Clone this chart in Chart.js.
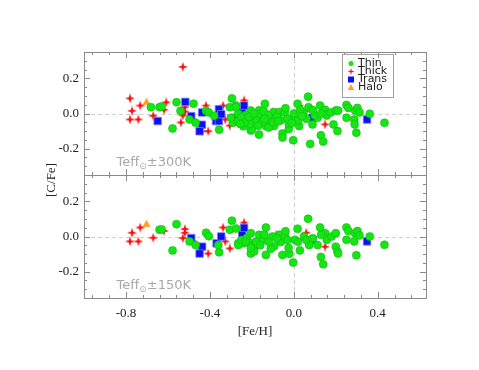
<!DOCTYPE html>
<html>
<head>
<meta charset="utf-8">
<script src="https://cdn.jsdelivr.net/npm/chart.js@4.4.1/dist/chart.umd.min.js"></script>
<style>
  body { margin: 0; background: #fff; }
  #wrap { position: relative; width: 479px; height: 370px; }
  canvas { position: absolute; left: 0; top: 0; }
</style>
</head>
<body>
<div id="wrap">
  <canvas id="topChart" width="479" height="370"></canvas>
  <canvas id="bottomChart" width="479" height="370"></canvas>
</div>
<script>
// ---- data: [Fe/H], [C/Fe] ----
// upper panel (Teff ± 300K)
const thinTop = [
  [-0.681,0.036],[-0.64,0.036],[-0.63,0.04],[-0.559,0.064],[-0.578,-0.085],[-0.54,0.015],
  [-0.497,-0.034],[-0.478,0.056],[-0.468,-0.053],[-0.418,0.015],[-0.405,0.006],[-0.356,-0.092],
  [-0.38,-0.013],[-0.305,0.036],[-0.295,0.086],[-0.275,0.045],[-0.29,-0.053],[-0.265,-0.043],
  [-0.24,-0.073],[-0.3,-0.024],[-0.265,-0.002],[-0.276,0.036],[-0.205,0.017],[-0.205,-0.097],
  [-0.166,-0.12],[-0.197,-0.025],[-0.189,-0.062],[-0.2,-0.09],[-0.165,0.018],[-0.16,-0.011],
  [-0.138,0.055],[-0.144,0.013],[-0.133,-0.071],[-0.113,-0.034],[-0.094,-0.071],[-0.097,0.008],
  [-0.068,0.008],[-0.062,-0.039],[-0.054,-0.114],[-0.054,-0.137],[-0.043,0.006],[-0.024,-0.088],
  [-0.024,-0.058],[-0.003,-0.152],[0.005,-0.024],[0.018,0.055],[0.025,-0.071],[0.046,0.006],
  [0.068,0.096],[0.07,0.036],[0.078,-0.173],[0.089,-0.062],[0.113,-0.024],[0.129,-0.124],
  [0.125,0.045],[0.14,-0.16],[0.149,0.021],[0.157,-0.011],[0.176,0.006],[0.189,-0.062],
  [0.2,0.017],[0.208,-0.1],[0.211,0.017],[0.251,0.049],[0.26,0.032],[0.251,-0.024],
  [0.288,-0.034],[0.29,-0.062],[0.298,-0.109],[0.292,0.017],[0.303,0.032],[0.313,0.006],
  [0.362,-0.002],[0.432,-0.053],
  [-0.22,-0.04],[-0.23,-0.01],[-0.18,-0.04],[-0.15,-0.05],[-0.12,-0.01],[-0.08,-0.02],
  [-0.03,-0.03],[0.0,0.0],[0.02,-0.04],[0.06,-0.03],[0.1,-0.01],[0.09,0.02],[-0.21,-0.06],
  [-0.25,-0.02],[-0.12,-0.08],[-0.04,0.03],[0.03,0.02],[0.13,0.0],
  [-0.235,-0.05],[-0.215,-0.02],[-0.17,-0.07],[-0.14,-0.03],[-0.1,-0.05],[-0.075,-0.045],
  [-0.01,-0.055],[0.04,-0.015],[-0.255,-0.06],[-0.19,0.0]
];
const thickTop = [
  [-0.781,0.086],[-0.771,0.015],[-0.781,-0.034],[-0.741,-0.034],[-0.732,0.045],[-0.67,-0.013],
  [-0.619,0.021],[-0.608,0.064],[-0.529,0.265],[-0.519,0.036],[-0.519,0.011],[-0.529,-0.011],
  [-0.538,-0.051],[-0.48,-0.034],[-0.437,-0.101],[-0.408,-0.101],[-0.419,0.045],[-0.337,0.045],
  [-0.327,-0.034],[-0.305,-0.069],[-0.237,0.075],[-0.224,-0.034],[-0.125,-0.002],[-0.084,0.006],
  [0.027,0.045],[0.059,0.015],[0.149,-0.062]
];
const transTop = [
  [-0.649,-0.043],[-0.517,0.066],[-0.489,-0.015],[-0.437,0.006],[-0.438,-0.064],[-0.449,-0.101],
  [-0.371,-0.043],[-0.357,-0.043],[-0.357,0.024],[-0.346,-0.004],[-0.278,-0.024],[-0.246,0.006],
  [-0.237,0.045],[-0.246,-0.013],[0.089,-0.024],[0.349,-0.034]
];
const haloTop = [[-0.702,0.062]];

// lower panel (Teff ± 150K)
const thinBottom = [
  [-0.64,0.039],[-0.63,0.04],[-0.559,0.07],[-0.578,-0.079],[-0.497,-0.028],[-0.468,-0.049],
  [-0.418,0.021],[-0.405,0.002],[-0.356,-0.09],[-0.36,-0.049],[-0.305,0.039],[-0.295,0.09],
  [-0.265,-0.039],[-0.24,-0.039],[-0.205,-0.097],[-0.19,-0.075],[-0.275,0.045],[-0.265,-0.049],
  [-0.25,-0.02],[-0.224,-0.009],[-0.205,0.019],[-0.205,-0.039],[-0.197,-0.055],[-0.189,-0.085],
  [-0.205,-0.065],[-0.165,0.01],[-0.144,-0.019],[-0.133,0.051],[-0.14,0.01],[-0.133,-0.105],
  [-0.094,-0.055],[-0.101,0.0],[-0.068,0.01],[-0.062,-0.031],[-0.054,-0.105],[-0.043,0.0],
  [-0.022,-0.098],[-0.025,-0.066],[-0.003,-0.148],[0.005,-0.019],[0.018,0.044],[0.029,-0.079],
  [0.049,0.0],[0.068,0.101],[0.073,-0.049],[0.113,-0.049],[0.125,0.051],[0.129,-0.116],
  [0.14,-0.158],[0.149,0.019],[0.157,-0.019],[0.18,0.0],[0.2,0.019],[0.2,-0.058],
  [0.208,-0.086],[0.211,-0.097],[0.251,0.051],[0.26,0.031],[0.251,-0.019],[0.288,-0.028],
  [0.298,-0.107],[0.292,0.019],[0.303,0.031],[0.313,0.006],[0.362,0.0],[0.432,-0.047],
  [-0.18,-0.03],[-0.16,-0.05],[-0.12,-0.03],[-0.11,-0.07],[-0.08,-0.01],[-0.03,-0.02],
  [0.02,-0.03],[0.06,-0.02],[0.09,-0.01],[-0.23,-0.03],[0.13,0.01],[-0.04,0.03]
];
const thickBottom = [
  [-0.781,-0.028],[-0.771,0.021],[-0.741,-0.028],[-0.732,0.051],[-0.67,-0.007],[-0.619,0.032],
  [-0.519,0.042],[-0.519,0.021],[-0.529,-0.009],[-0.48,-0.028],[-0.408,-0.097],[-0.337,0.051],
  [-0.327,-0.028],[-0.305,-0.068],[-0.237,0.079],[-0.224,-0.028],[-0.084,0.01],[0.059,0.021],
  [0.149,-0.058]
];
const transBottom = [
  [-0.489,-0.009],[-0.437,-0.058],[-0.449,-0.097],[-0.368,-0.039],[-0.346,0.0],[-0.246,0.01],
  [-0.237,0.049],[0.089,-0.019],[0.349,-0.028]
];
const haloBottom = [[-0.702,0.068]];

const legendLabels = ["Thin", "Thick", "Trans", "Halo"];
const xTicks = [-0.8, -0.4, 0.0, 0.4];
const xTickLabels = ["-0.8", "-0.4", "0.0", "0.4"];
const yTicks = [0.2, 0.0, -0.2];
const yTickLabels = ["0.2", "0.0", "-0.2"];

const GREEN = "#14e614", RED = "#ff1010", BLUE = "#0a10f0", ORANGE = "#ffa020";

// 4-pointed star used for the "Thick" points
function starImage(size, color) {
  const c = document.createElement("canvas");
  c.width = size; c.height = size;
  const g = c.getContext("2d");
  const m = size / 2, R = size / 2, r = size / 6;
  g.fillStyle = color;
  g.beginPath();
  for (let i = 0; i < 8; i++) {
    const a = -Math.PI / 2 + i * Math.PI / 4;
    const rr = i % 2 ? r : R;
    g.lineTo(m + rr * Math.cos(a), m + rr * Math.sin(a));
  }
  g.closePath();
  g.fill();
  return c;
}
const starBig = starImage(10, RED);
const starSmall = starImage(7, RED);

const toXY = arr => arr.map(p => ({ x: p[0], y: p[1] }));

function makeDatasets(thin, thick, trans, halo) {
  return [
    { label: "Thin", data: toXY(thin), pointStyle: "circle", pointRadius: 4,
      backgroundColor: GREEN, borderColor: "#12b812", borderWidth: 0.6 },
    { label: "Trans", data: toXY(trans), pointStyle: "rect", pointRadius: 5.3,
      backgroundColor: BLUE, borderColor: "#7a7aff", borderWidth: 0.8 },
    { label: "Thick", data: toXY(thick), pointStyle: starBig, pointRadius: 5 },
    { label: "Halo", data: toXY(halo), pointStyle: "triangle", pointRadius: 4.3,
      backgroundColor: ORANGE, borderColor: ORANGE, borderWidth: 0.5 }
  ];
}

function panelPlugin(teffText, isBottom) {
  return {
    id: "panel",
    beforeDatasetsDraw(chart) {
      const { ctx, chartArea: a, scales: { x, y } } = chart;
      ctx.save();
      ctx.strokeStyle = "#cfcfcf";
      ctx.lineWidth = 1;
      ctx.setLineDash([4, 3]);
      const x0 = Math.round(x.getPixelForValue(0)) + 0.5;
      const y0 = Math.round(y.getPixelForValue(0)) + 0.5;
      ctx.beginPath();
      ctx.moveTo(x0, a.top); ctx.lineTo(x0, a.bottom);
      ctx.moveTo(a.left, y0); ctx.lineTo(a.right, y0);
      ctx.stroke();
      ctx.restore();
    },
    afterDraw(chart) {
      const { ctx, chartArea: a, scales: { x, y } } = chart;
      ctx.save();
      // frame
      ctx.strokeStyle = "#8a8a8a";
      ctx.lineWidth = 1;
      ctx.strokeRect(Math.round(a.left) + 0.5, Math.round(a.top) + 0.5,
        Math.round(a.right - a.left), Math.round(a.bottom - a.top));
      // inward ticks
      ctx.beginPath();
      for (let v = -0.96; v < 0.63; v += 0.08) {
        const px = Math.round(x.getPixelForValue(v)) + 0.5;
        const major = xTicks.some(t => Math.abs(t - v) < 1e-6);
        const len = major ? 6 : 3;
        ctx.moveTo(px, a.top); ctx.lineTo(px, a.top + len);
        ctx.moveTo(px, a.bottom); ctx.lineTo(px, a.bottom - len);
      }
      for (let v = -0.3; v < 0.35; v += 0.05) {
        const py = Math.round(y.getPixelForValue(v)) + 0.5;
        const major = yTicks.some(t => Math.abs(t - v) < 1e-6);
        const len = major ? 6 : 3;
        ctx.moveTo(a.left, py); ctx.lineTo(a.left + len, py);
        ctx.moveTo(a.right, py); ctx.lineTo(a.right - len, py);
      }
      ctx.stroke();
      // y tick labels
      ctx.fillStyle = "#222";
      ctx.font = '13px "Liberation Serif"';
      ctx.textAlign = "right";
      ctx.textBaseline = "middle";
      yTicks.forEach((v, i) => ctx.fillText(yTickLabels[i], a.left - 5, y.getPixelForValue(v)));
      if (isBottom) {
        ctx.textAlign = "center";
        xTicks.forEach((v, i) => ctx.fillText(xTickLabels[i], x.getPixelForValue(v), a.bottom + 16));
        ctx.fillText("[Fe/H]", (a.left + a.right) / 2, a.bottom + 34);
        ctx.save();
        ctx.translate(52, 180);
        ctx.rotate(-Math.PI / 2);
        ctx.fillText("[C/Fe]", 0, 0);
        ctx.restore();
      }
      // Teff annotation
      ctx.fillStyle = "#a8a8a8";
      ctx.textAlign = "left";
      ctx.textBaseline = "alphabetic";
      let tx = x.getPixelForValue(-0.845);
      const ty = a.bottom - 9;
      ctx.font = '13px "DejaVu Sans"';
      ctx.fillText("Teff", tx, ty);
      tx += ctx.measureText("Teff").width;
      ctx.font = '9px "DejaVu Sans"';
      ctx.fillText("\u2299", tx, ty + 3);
      tx += ctx.measureText("\u2299").width;
      ctx.font = '13px "DejaVu Sans"';
      ctx.fillText(teffText, tx, ty);
      // legend (upper panel only)
      if (!isBottom) {
        const bx = 342.5, by = 54.5, bw = 51, bh = 43;
        ctx.strokeStyle = "#a0a0a0";
        ctx.strokeRect(bx, by, bw, bh);
        ctx.font = '11px "DejaVu Sans"';
        ctx.fillStyle = "#222";
        ctx.textBaseline = "middle";
        const sx = 351, rows = [63.5, 71.5, 79.5, 87.5];
        legendLabels.forEach((lab, i) => ctx.fillText(lab, 358, rows[i]));
        // symbols
        ctx.fillStyle = GREEN;
        ctx.beginPath(); ctx.arc(sx, rows[0], 2.5, 0, Math.PI * 2); ctx.fill();
        ctx.drawImage(starSmall, sx - 3.5, rows[1] - 3.5);
        ctx.fillStyle = BLUE;
        ctx.fillRect(sx - 3, rows[2] - 3, 6, 6);
        ctx.fillStyle = ORANGE;
        ctx.beginPath();
        ctx.moveTo(sx, rows[3] - 3.5); ctx.lineTo(sx + 3.2, rows[3] + 2.5); ctx.lineTo(sx - 3.2, rows[3] + 2.5);
        ctx.closePath(); ctx.fill();
      }
      ctx.restore();
    }
  };
}

function makeChart(id, datasets, padding, teffText, isBottom) {
  return new Chart(document.getElementById(id).getContext("2d"), {
    type: "scatter",
    data: { datasets: datasets },
    options: {
      responsive: false,
      animation: false,
      layout: { padding: padding },
      plugins: { legend: { display: false }, tooltip: { enabled: false } },
      scales: {
        x: { type: "linear", display: false, min: -1.0, max: 0.63 },
        y: { type: "linear", display: false, min: -0.35, max: 0.35 }
      }
    },
    plugins: [panelPlugin(teffText, isBottom)]
  });
}

const topChart = makeChart("topChart", makeDatasets(thinTop, thickTop, transTop, haloTop),
  { left: 84, right: 53, top: 52, bottom: 195 }, "\u00b1300K", false);
const bottomChart = makeChart("bottomChart", makeDatasets(thinBottom, thickBottom, transBottom, haloBottom),
  { left: 84, right: 53, top: 175, bottom: 72 }, "\u00b1150K", true);
</script>
</body>
</html>
